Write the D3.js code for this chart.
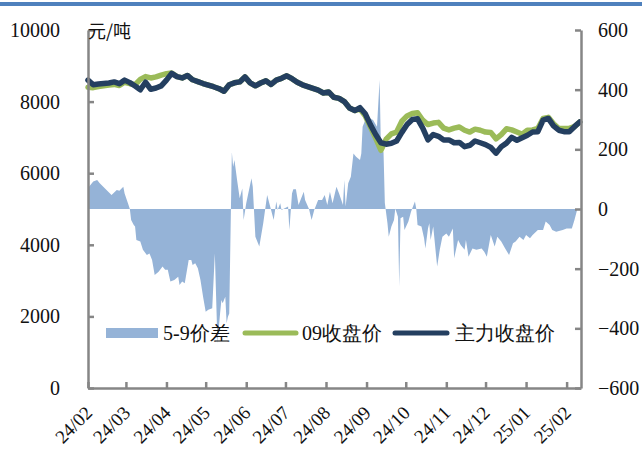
<!DOCTYPE html>
<html>
  <body style="margin:0;background:#fff">
    <script src="https://cdn.jsdelivr.net/npm/d3@7/dist/d3.min.js"></script>
    <script type="text/javascript">
      const width = 642;
      const height = 450;

      // price series, sampled every few days
      const priceDates = [
        '24-02-01', '24-02-05', '24-02-09', '24-02-13', '24-02-17', '24-02-21', '24-02-25', '24-02-29',
        '24-03-04', '24-03-08', '24-03-12', '24-03-16', '24-03-20', '24-03-24', '24-03-28',
        '24-04-01', '24-04-05', '24-04-09', '24-04-13', '24-04-17', '24-04-21', '24-04-25', '24-04-29',
        '24-05-03', '24-05-07', '24-05-11', '24-05-15', '24-05-19', '24-05-23', '24-05-27', '24-05-31',
        '24-06-04', '24-06-08', '24-06-12', '24-06-16', '24-06-20', '24-06-24', '24-06-28',
        '24-07-02', '24-07-06', '24-07-10', '24-07-14', '24-07-18', '24-07-22', '24-07-26', '24-07-30',
        '24-08-03', '24-08-07', '24-08-11', '24-08-15', '24-08-19', '24-08-23', '24-08-27', '24-08-31',
        '24-09-04', '24-09-08', '24-09-12', '24-09-16', '24-09-20', '24-09-24', '24-09-28',
        '24-10-02', '24-10-06', '24-10-10', '24-10-14', '24-10-18', '24-10-22', '24-10-26', '24-10-30',
        '24-11-03', '24-11-07', '24-11-11', '24-11-15', '24-11-19', '24-11-23', '24-11-27',
        '24-12-01', '24-12-05', '24-12-09', '24-12-13', '24-12-17', '24-12-21', '24-12-25', '24-12-29',
        '25-01-02', '25-01-06', '25-01-10', '25-01-14', '25-01-18', '25-01-22', '25-01-26', '25-01-30',
        '25-02-03', '25-02-07', '25-02-11',
      ];

      const mainClose = [
        8600, 8470, 8490, 8505, 8520, 8550, 8500, 8600,
        8530, 8435, 8330, 8540, 8345, 8380, 8440,
        8600, 8790, 8700, 8660, 8730, 8610, 8560, 8505,
        8460, 8415, 8365, 8290, 8470, 8525, 8550, 8690,
        8525, 8440, 8520, 8580, 8480, 8600, 8650,
        8720, 8640, 8540, 8470, 8420, 8370, 8320, 8240,
        8270, 8120, 8090, 8000, 7820, 7750, 7830, 7660,
        7350, 7080, 6850, 6810, 6835, 6900, 7140,
        7360, 7500, 7520, 7260, 6930, 7080, 7030, 6930,
        6930, 6850, 6860, 6740, 6780, 6900, 6850,
        6800, 6720, 6560, 6740, 6840, 7000, 6920, 6990,
        7060, 7150, 7160, 7480, 7530, 7320, 7200, 7160,
        7160, 7300, 7430,
      ];

      const close09 = [
        8400, 8390, 8420, 8440, 8460, 8480, 8450, 8540,
        8500, 8470, 8620, 8700, 8660, 8690, 8740,
        8780, 8800, 8700, 8660, 8730, 8610, 8560, 8505,
        8460, 8415, 8365, 8290, 8470, 8525, 8550, 8690,
        8525, 8440, 8520, 8580, 8480, 8600, 8650,
        8720, 8640, 8540, 8470, 8420, 8370, 8320, 8240,
        8270, 8120, 8090, 8000, 7820, 7750, 7790, 7600,
        7290, 6980, 6640, 6950, 7100, 7150, 7450,
        7600, 7670, 7690, 7480, 7360, 7400, 7420, 7260,
        7210, 7260, 7290, 7200, 7150, 7230, 7200,
        7150, 7140, 6960, 7080, 7240, 7210, 7150, 7090,
        7200, 7210, 7250, 7530, 7560, 7380, 7250, 7250,
        7250, 7300, 7430,
      ];

      // 5-9 spread, read more densely because of the spikes
      const spreadDates = [
        '24-02-01', '24-02-05', '24-02-08', '24-02-10', '24-02-14', '24-02-19', '24-02-23', '24-02-25', '24-02-28', '24-02-29',
        '24-03-03', '24-03-04', '24-03-05', '24-03-07', '24-03-08', '24-03-09', '24-03-12', '24-03-14', '24-03-17', '24-03-19', '24-03-21', '24-03-23', '24-03-26', '24-03-29', '24-03-31',
        '24-04-02', '24-04-04', '24-04-07', '24-04-10', '24-04-11', '24-04-13', '24-04-15', '24-04-18', '24-04-20', '24-04-21', '24-04-23', '24-04-25', '24-04-27', '24-04-29',
        '24-05-01', '24-05-03', '24-05-06', '24-05-08', '24-05-10', '24-05-12', '24-05-13', '24-05-14', '24-05-16', '24-05-17', '24-05-18', '24-05-19', '24-05-21', '24-05-22', '24-05-23', '24-05-25', '24-05-27', '24-05-29', '24-05-30',
        '24-06-01', '24-06-05', '24-06-06', '24-06-08', '24-06-11', '24-06-14', '24-06-17', '24-06-19', '24-06-22', '24-06-24', '24-06-25', '24-06-27', '24-06-28', '24-06-30',
        '24-07-03', '24-07-04', '24-07-06', '24-07-07', '24-07-09', '24-07-11', '24-07-15', '24-07-16', '24-07-19', '24-07-21', '24-07-23', '24-07-26', '24-07-29', '24-07-31',
        '24-08-02', '24-08-04', '24-08-06', '24-08-09', '24-08-11', '24-08-14', '24-08-15', '24-08-16', '24-08-18', '24-08-20', '24-08-22', '24-08-24', '24-08-27', '24-08-28', '24-08-29',
        '24-09-01', '24-09-06', '24-09-09', '24-09-11', '24-09-12', '24-09-14', '24-09-15', '24-09-17', '24-09-18', '24-09-20', '24-09-22', '24-09-23', '24-09-25', '24-09-26', '24-09-27', '24-09-29', '24-09-30',
        '24-10-03', '24-10-05', '24-10-08', '24-10-09', '24-10-10', '24-10-13', '24-10-15', '24-10-16', '24-10-18', '24-10-19', '24-10-20', '24-10-22', '24-10-25', '24-10-27', '24-10-29',
        '24-11-01', '24-11-03', '24-11-06', '24-11-07', '24-11-10', '24-11-12', '24-11-15', '24-11-16', '24-11-18', '24-11-21', '24-11-24', '24-11-28', '24-11-30',
        '24-12-02', '24-12-05', '24-12-08', '24-12-10', '24-12-13', '24-12-16', '24-12-19', '24-12-22', '24-12-24', '24-12-27', '24-12-30',
        '25-01-01', '25-01-04', '25-01-06', '25-01-10', '25-01-14', '25-01-16', '25-01-19', '25-01-21', '25-01-24', '25-01-29',
        '25-02-01', '25-02-05', '25-02-07', '25-02-09', '25-02-11',
      ];

      const spread59 = [
        70, 92, 97, 86, 69, 47, 64, 61, 75, 52,
        13, 0, -37, -54, -59, -104, -109, -137, -154, -149, -171, -221, -210, -193, -204,
        -204, -243, -238, -227, -255, -243, -249, -171, -171, -188, -182, -199, -238, -294,
        -344, -338, -333, -149, -450, -350, -305, -316, -294, -383, -361, -350, 190, 142, 164, 97, 36, 69, -37,
        19, 103, 75, -93, -126, -48, 47, 13, -37, 25, -3, 19, -3, 2,
        8, -70, 52, 66, 66, 13, 58, 30, 0, -37, -3, 30, 30, 47,
        13, 58, 19, 75, 52, 13, 97, 8, 86, 108, 186, 175, 164, 186, 276,
        309, 298, 276, 432, 200, 190, 20, -48, -93, -59, -37, 2, -26, -260, -31, -26, -70,
        -42, -9, 25, 2, -54, -59, -98, -132, -65, -48, -104, -59, -193, -137, -93,
        -82, -93, -65, -165, -104, -121, -137, -104, -160, -132, -137, -132, -143,
        -160, -87, -126, -93, -109, -132, -154, -115, -109, -93, -104,
        -87, -98, -87, -70, -70, -42, -54, -70, -76, -70,
        -65, -65, -37, -3, 0,
      ];

      const leftTicks = [0, 2000, 4000, 6000, 8000, 10000];
      const rightTicks = [-600, -400, -200, 0, 200, 400, 600];
      const monthTicks = ['24-02-01', '24-03-01', '24-04-01', '24-05-01', '24-06-01', '24-07-01', '24-08-01',
        '24-09-01', '24-10-01', '24-11-01', '24-12-01', '25-01-01', '25-02-01'];
      const legendNames = ['5-9价差', '09收盘价', '主力收盘价'];

      const colSpread = '#95b3d7';
      const colGreen = '#9bbb59';
      const colMain = '#243f60';
      const axisCol = '#868686';
      const numFont = "'Liberation Serif'";

      const parse = d3.timeParse('%y-%m-%d');
      const prices = priceDates.map((d, i) => ({ date: parse(d), main: mainClose[i], c09: close09[i] }));
      const spread = spreadDates.map((d, i) => ({ date: parse(d), v: spread59[i] }));

      const plot = { left: 88, right: 581, top: 30, bottom: 388 };

      const x = d3.scaleTime()
        .domain([parse('24-02-01'), parse('25-02-12')])
        .range([plot.left, plot.right]);
      const yL = d3.scaleLinear().domain([0, 10000]).range([plot.bottom, plot.top]);
      const yR = d3.scaleLinear().domain([-600, 600]).range([plot.bottom, plot.top]);

      const svg = d3.select('body').append('svg')
        .attr('width', width)
        .attr('height', height)
        .style('display', 'block');

      svg.append('rect').attr('x', 0).attr('y', 2).attr('width', width).attr('height', 4).attr('fill', '#4f81bd');

      // spread area on right axis
      svg.append('path')
        .datum(spread)
        .attr('fill', colSpread)
        .attr('d', d3.area().x((d) => x(d.date)).y0(yR(0)).y1((d) => yR(d.v)));

      const line = (key) => d3.line().x((d) => x(d.date)).y((d) => yL(d[key]));

      svg.append('path').datum(prices)
        .attr('fill', 'none').attr('stroke', colGreen).attr('stroke-width', 5.5)
        .attr('stroke-linejoin', 'round').attr('stroke-linecap', 'round')
        .attr('d', line('c09'));

      svg.append('path').datum(prices)
        .attr('fill', 'none').attr('stroke', colMain).attr('stroke-width', 5.5)
        .attr('stroke-linejoin', 'round').attr('stroke-linecap', 'round')
        .attr('d', line('main'));

      // axes
      const styleAxis = (g) => {
        g.select('.domain').attr('stroke', axisCol).attr('stroke-width', 2.5);
        g.selectAll('.tick line').attr('stroke', axisCol).attr('stroke-width', 2.5);
        g.selectAll('text').attr('fill', '#111')
          .style('font-family', numFont).style('font-size', '20px');
      };

      svg.append('g')
        .attr('transform', `translate(${plot.left},0)`)
        .call(d3.axisLeft(yL).tickValues(leftTicks).tickFormat(d3.format('d'))
          .tickSizeInner(-6).tickSizeOuter(0).tickPadding(28))
        .call(styleAxis);

      svg.append('g')
        .attr('transform', `translate(${plot.right},0)`)
        .call(d3.axisRight(yR).tickValues(rightTicks).tickFormat((d) => (d < 0 ? '\u2212' + Math.abs(d) : d))
          .tickSizeInner(-6).tickSizeOuter(0).tickPadding(17))
        .call(styleAxis);

      svg.append('g')
        .attr('transform', `translate(0,${plot.bottom})`)
        .call(d3.axisBottom(x).tickValues(monthTicks.map(parse)).tickFormat(d3.timeFormat('%y/%m'))
          .tickSizeInner(-6).tickSizeOuter(0))
        .call(styleAxis)
        .call((g) => g.selectAll('text')
          .attr('x', 0).attr('y', 0).attr('dy', 0)
          .attr('text-anchor', 'end')
          .style('font-size', '19px')
          .attr('transform', 'translate(5,26) rotate(-45)'));

      svg.append('text')
        .attr('x', plot.left).attr('y', 38)
        .style('font-family', "'Noto Sans CJK SC'").style('font-size', '18px')
        .attr('fill', '#111')
        .text('元/吨');

      // legend
      const leg = svg.append('g').attr('transform', 'translate(0,333)');
      leg.append('rect').attr('x', 106).attr('y', -5).attr('width', 52).attr('height', 10).attr('fill', colSpread);
      leg.append('line').attr('x1', 245).attr('x2', 296).attr('y1', 0).attr('y2', 0)
        .attr('stroke', colGreen).attr('stroke-width', 5).attr('stroke-linecap', 'round');
      leg.append('line').attr('x1', 395).attr('x2', 447).attr('y1', 0).attr('y2', 0)
        .attr('stroke', colMain).attr('stroke-width', 5).attr('stroke-linecap', 'round');
      leg.selectAll('text.leg')
        .data(legendNames)
        .enter()
        .append('text')
        .attr('class', 'leg')
        .attr('x', (d, i) => [163, 302, 455][i])
        .attr('y', 7)
        .attr('fill', '#111')
        .style('font-family', numFont)
        .style('font-size', '20px')
        .text((d) => d);
    </script>
  </body>
</html>
